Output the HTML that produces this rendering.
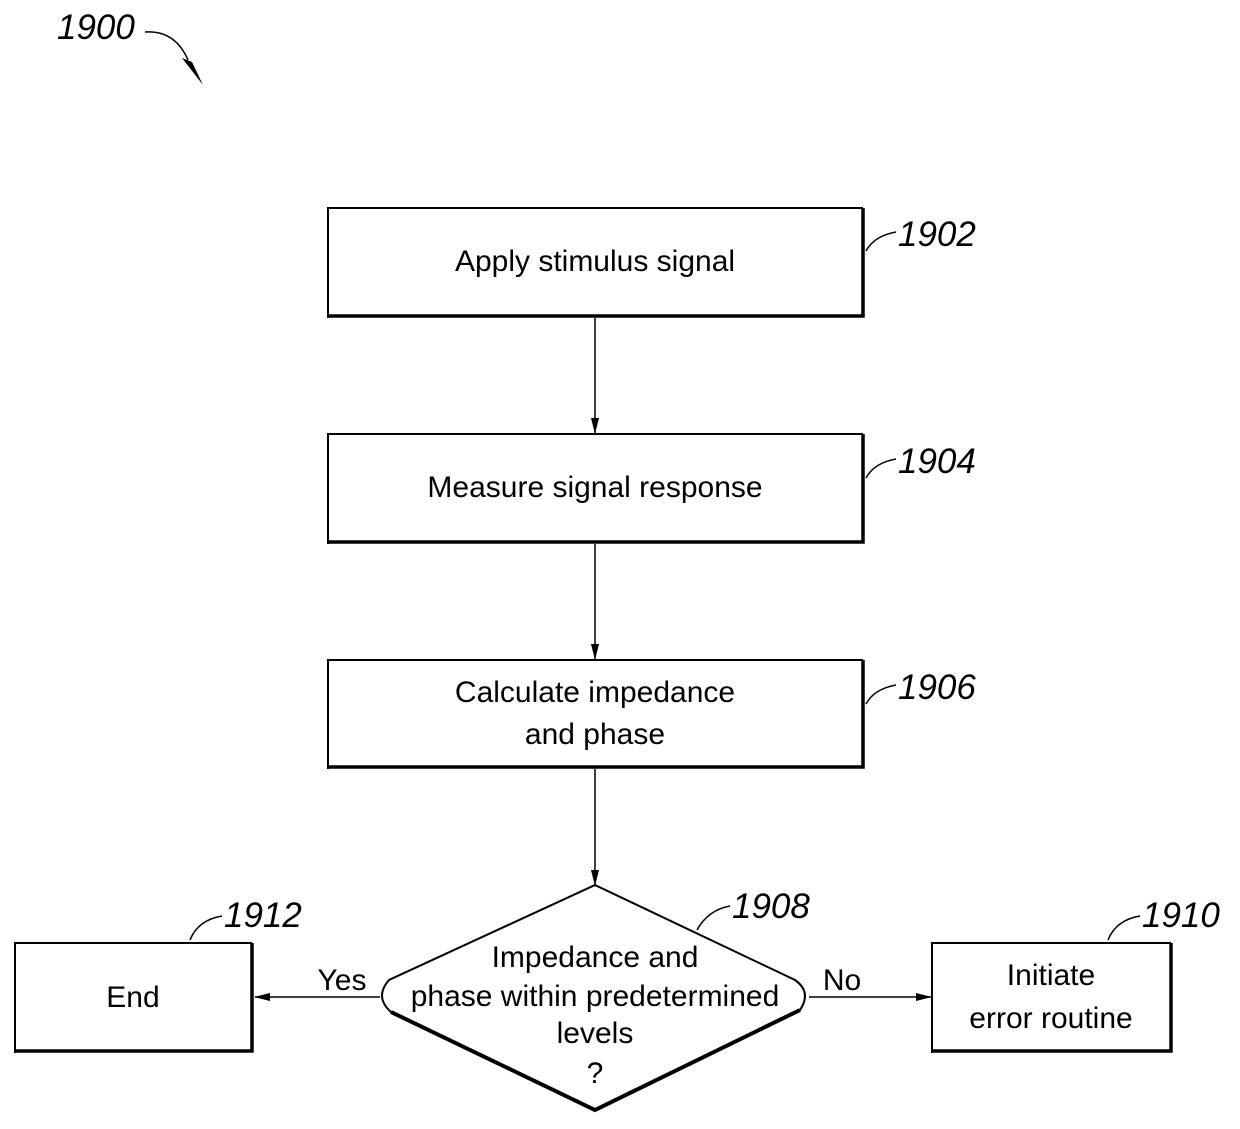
<!DOCTYPE html>
<html><head><style>body{margin:0;background:#fff}svg{display:block}</style></head><body>
<svg width="1240" height="1129" viewBox="0 0 1240 1129" xmlns="http://www.w3.org/2000/svg" font-family="Liberation Sans, Arial, sans-serif">
<defs><marker id="a" markerWidth="16" markerHeight="10" refX="15" refY="5" orient="auto" markerUnits="userSpaceOnUse"><path d="M0,1 L16,5 L0,9 Z" fill="#000"/></marker></defs>
<g fill="none" stroke="#000">
<g stroke-width="2">
<path d="M328,318 V208 H863"/><path d="M328,544 V434 H863"/><path d="M328,769 V660 H863"/>
<path d="M15,1053 V943 H252"/><path d="M932,1053 V943 H1171"/>
</g>
<g stroke-width="3.5">
<path d="M863,208 V316 H328"/><path d="M863,434 V542 H328"/><path d="M863,660 V767 H328"/>
<path d="M252,943 V1051 H15"/><path d="M1171,943 V1051 H932"/>
</g>
<g stroke-width="1.5">
<line x1="595" y1="318" x2="595" y2="433" marker-end="url(#a)"/>
<line x1="595" y1="544" x2="595" y2="659" marker-end="url(#a)"/>
<line x1="595" y1="769" x2="595" y2="885" marker-end="url(#a)"/>
<line x1="380" y1="997" x2="255" y2="997" marker-end="url(#a)"/>
<line x1="809" y1="997" x2="931" y2="997" marker-end="url(#a)"/>
</g>
<path d="M595,885 L795,980 Q812,992 800,1010 L595,1110 L391,1012 Q374,997 389,980 Z" stroke-width="2"/>
<path d="M800,1010 L595,1110 L391,1012" stroke-width="4"/>
<g stroke-width="1.5">
<path d="M866,251 Q874,236 896,232"/>
<path d="M866,478 Q874,463 896,459"/>
<path d="M866,704 Q874,689 896,685"/>
<path d="M697,930 Q708,910 730,906"/>
<path d="M190,940 Q198,920 222,916"/>
<path d="M1108,940 Q1116,920 1140,916"/>
<path d="M145,32 Q175,30 188,60"/>
</g>
</g>
<path d="M182,58 L203,85 L192,62 Z" fill="#000"/>
<g font-size="30" text-anchor="middle" fill="#000">
<text x="595" y="271">Apply stimulus signal</text>
<text x="595" y="497">Measure signal response</text>
<text x="595" y="702">Calculate impedance</text>
<text x="595" y="744">and phase</text>
<text x="133" y="1007">End</text>
<text x="1051" y="985">Initiate</text>
<text x="1051" y="1028">error routine</text>
<text x="595" y="967">Impedance and</text>
<text x="595" y="1006">phase within predetermined</text>
<text x="595" y="1043">levels</text>
<text x="595" y="1083">?</text>
<text x="342" y="990">Yes</text>
<text x="842" y="990">No</text>
</g>
<g font-size="35" font-style="italic" fill="#000">
<text x="898" y="246">1902</text>
<text x="898" y="473">1904</text>
<text x="898" y="699">1906</text>
<text x="732" y="918">1908</text>
<text x="224" y="927">1912</text>
<text x="1142" y="927">1910</text>
<text x="57" y="39">1900</text>
</g>
</svg>
</body></html>
